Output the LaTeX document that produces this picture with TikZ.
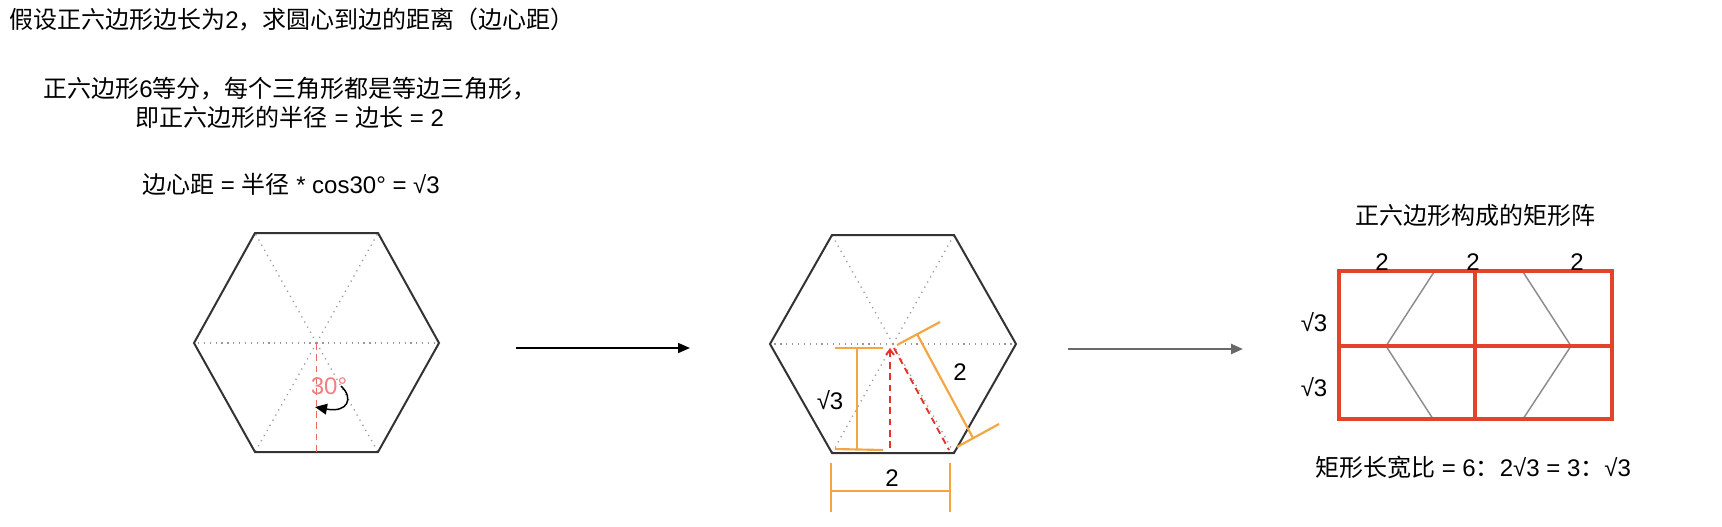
\documentclass[tikz,border=0pt]{standalone}
\usepackage{fontspec}
\setmainfont{Liberation Sans}
\newfontfamily\cjk{Noto Sans CJK SC}
\usetikzlibrary{arrows.meta}
\newcommand\zh[1]{{\cjk #1}}
\definecolor{hexred}{RGB}{234,107,102}
\definecolor{hexredb}{RGB}{226,52,40}
\definecolor{salmon}{RGB}{240,128,128}
\definecolor{orng}{RGB}{242,165,65}
\definecolor{rectred}{RGB}{228,67,43}
\definecolor{arrgray}{RGB}{105,105,105}
\begin{document}
\begin{tikzpicture}[x=0.75pt,y=-0.75pt,
  txt/.style={font=\fontsize{18}{21.75}\selectfont, inner sep=0pt},
  hexline/.style={draw=black!80, line width=1.5pt, line join=miter},
  dotl/.style={draw=black!40, line width=1pt, dash pattern=on 0.9pt off 3.5pt},
  reddash/.style={line width=1.4pt, dash pattern=on 5pt off 3.5pt},
  dim/.style={draw=orng, line width=1.6pt},
  rline/.style={draw=rectred, line width=2.4pt},
  gline/.style={draw=black!45, line width=1.1pt},
  arr/.style={line width=1.3pt, -{Triangle[length=9pt,width=7.5pt]}}
]
\useasboundingbox (0,0) rectangle (1722,526);

% texts
\node[txt, anchor=west] (t1) at (9,20) {\zh{假设正六边形边长为}2\zh{，求圆心到边的距离（边心距）}};
\node[txt, align=center] (t2) at (290,102.5) {\zh{正六边形}6\zh{等分，每个三角形都是等边三角形，}\\\zh{即正六边形的半径} = \zh{边长} = 2};
\node[txt] (t4) at (291,184) {\zh{边心距} = \zh{半径} * cos30° = √3};

% hexagon 1
\coordinate (c1) at (316.5,343);
\coordinate (h1a) at (255,233);
\coordinate (h1b) at (378,233);
\coordinate (h1c) at (439,343);
\coordinate (h1d) at (378,452);
\coordinate (h1e) at (255,452);
\coordinate (h1f) at (194,343);
\coordinate (m1) at (316.5,452);
\foreach \v in {h1a,h1b,h1c,h1d,h1e,h1f} \draw[dotl] (c1) -- (\v);
\draw[hexline] (h1a) -- (h1b) -- (h1c) -- (h1d) -- (h1e) -- (h1f) -- cycle;
\draw[reddash, hexred] (c1) -- (m1);
\node[txt, text=salmon] (deg) at (329,386) {30°};
\coordinate (ang1) at (341,386);
\coordinate (ang2) at (315,407);
\draw[line width=1.1pt, -{Triangle[length=9pt,width=8pt]}] (ang1) .. controls (354,398) and (348,413) .. (ang2);

% arrow 1
\coordinate (a1s) at (516,348);
\coordinate (a1e) at (690,348);
\draw[arr, black] (a1s) -- (a1e);

% hexagon 2
\coordinate (c2) at (893,344);
\coordinate (h2a) at (832,235);
\coordinate (h2b) at (954,235);
\coordinate (h2c) at (1016,344);
\coordinate (h2d) at (954,453);
\coordinate (h2e) at (832,453);
\coordinate (h2f) at (770,344);
\foreach \v in {h2a,h2b,h2c,h2d,h2e,h2f} \draw[dotl] (c2) -- (\v);
\draw[hexline] (h2a) -- (h2b) -- (h2c) -- (h2d) -- (h2e) -- (h2f) -- cycle;
\coordinate (r1t) at (890,348);
\coordinate (r1b) at (890,452);
\coordinate (r2t) at (894,348);
\coordinate (r2b) at (949,450);
\draw[reddash, hexredb, {Straight Barb[length=4pt,width=6pt]}-] (r1t) -- (r1b);
\draw[reddash, hexredb] (r2t) -- (r2b);
% orange dimension: sqrt3
\draw[dim] (835,348) -- (883,348);
\draw[dim] (857,348) -- (857,449);
\draw[dim] (835,449) -- (883,450);
\node[txt] (s3) at (830,400) {√3};
% orange dimension: slanted 2
\draw[dim] (897,345) -- (940,322);
\draw[dim] (917,334) -- (973,438);
\draw[dim] (957,447) -- (999,424);
\node[txt] (l2a) at (960,372) {2};
% orange dimension: bottom 2
\draw[dim] (831,463) -- (831,512);
\draw[dim] (950,463) -- (950,512);
\draw[dim] (831,491) -- (950,491);
\node[txt] (l2b) at (892,478) {2};

% arrow 2
\coordinate (a2s) at (1068,349);
\coordinate (a2e) at (1243,349);
\draw[arr, arrgray, line width=1.8pt] (a2s) -- (a2e);

% rectangle grid
\node[txt] (title) at (1475,215) {\zh{正六边形构成的矩形阵}};
\draw[gline] (1434,272) -- (1386,346) -- (1433,419);
\draw[gline] (1523,272) -- (1571,346) -- (1523,419);
\draw[rline] (1339,271) rectangle (1612,419);
\draw[rline] (1339,346) -- (1612,346);
\draw[rline] (1475,271) -- (1475,419);
\node[txt] (w1) at (1382,262) {2};
\node[txt] (w2) at (1473,262) {2};
\node[txt] (w3) at (1577,262) {2};
\node[txt] (hh1) at (1314,322) {√3};
\node[txt] (hh2) at (1314,387) {√3};
\node[txt] (ratio) at (1473,467) {\zh{矩形长宽比} = 6\zh{：}2√3 = 3\zh{：}√3};
\end{tikzpicture}
\end{document}
